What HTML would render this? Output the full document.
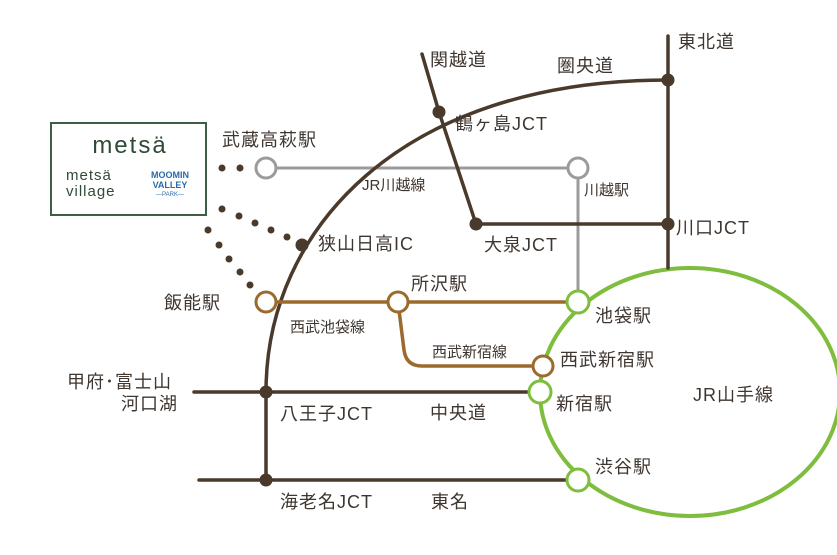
<!DOCTYPE html>
<html><head><meta charset="utf-8"><style>
body{margin:0;background:#fff;width:837px;height:550px;overflow:hidden}
svg text{font-family:"Liberation Sans","Noto Sans CJK JP",sans-serif;fill:#3f3630}
</style></head><body>
<svg width="837" height="550" viewBox="0 0 837 550">
<g fill="none" stroke-linecap="round">
<ellipse cx="690" cy="392" rx="150" ry="124" stroke="#7fbd3e" stroke-width="4"/>
<path d="M266 168 H578 V302" stroke="#9b9b9b" stroke-width="3"/>
<g stroke="#4a3a2b" stroke-width="3.5">
<path d="M266 480 V392 C266 230 400 80 668 80"/>
<path d="M668 36 V268"/>
<path d="M422 54 L439 112 L476 224 H668"/>
<path d="M194 392 H540"/>
<path d="M199 480 H578"/>
</g>
<g stroke="#9b6a2c" stroke-width="3.5">
<path d="M266 302 H578"/>
<path d="M398 302 L404 350 Q406 366 422 366 H543"/>
</g>
</g>
<g fill="#4a3a2b">
<circle cx="222" cy="168" r="3.5"/><circle cx="240" cy="168" r="3.5"/>
<circle cx="222" cy="209" r="3.5"/><circle cx="239" cy="216" r="3.5"/><circle cx="255" cy="223" r="3.5"/><circle cx="271" cy="230" r="3.5"/><circle cx="287" cy="237" r="3.5"/>
<circle cx="208" cy="230" r="3.5"/><circle cx="219" cy="245" r="3.5"/><circle cx="229" cy="259" r="3.5"/><circle cx="240" cy="272" r="3.5"/><circle cx="250" cy="285" r="3.5"/>
<circle cx="302" cy="245" r="6.5"/><circle cx="439" cy="112" r="6.5"/><circle cx="668" cy="80" r="6.5"/>
<circle cx="476" cy="224" r="6.5"/><circle cx="668" cy="224" r="6.5"/>
<circle cx="266" cy="392" r="6.5"/><circle cx="266" cy="480" r="6.5"/>
</g>
<g fill="#fff" stroke-width="3">
<circle cx="266" cy="168" r="10" stroke="#9b9b9b"/>
<circle cx="578" cy="168" r="10" stroke="#9b9b9b"/>
<circle cx="266" cy="302" r="10" stroke="#9b6a2c"/>
<circle cx="398" cy="302" r="10" stroke="#9b6a2c"/>
<circle cx="543" cy="366" r="10" stroke="#9b6a2c"/>
<circle cx="578" cy="302" r="11" stroke="#7fbd3e"/>
<circle cx="540" cy="392" r="11" stroke="#7fbd3e"/>
<circle cx="578" cy="480" r="11" stroke="#7fbd3e"/>
</g>
<rect x="51" y="123" width="155" height="92" fill="#fff" stroke="#3e5e44" stroke-width="2"/>
<text x="130" y="153" font-size="24" text-anchor="middle" style="fill:#2f4a36;letter-spacing:2px">metsä</text>
<text x="66" y="180" font-size="15" style="fill:#2f4a36;letter-spacing:1px">metsä</text>
<text x="66" y="196" font-size="15" style="fill:#2f4a36;letter-spacing:1px">village</text>
<text x="170" y="178" font-size="9" font-weight="bold" text-anchor="middle" style="fill:#2a6aaa">MOOMIN</text>
<text x="170" y="188" font-size="9" font-weight="bold" text-anchor="middle" style="fill:#2a6aaa">VALLEY</text>
<text x="170" y="196" font-size="6" text-anchor="middle" style="fill:#2a6aaa">—PARK—</text>
<g font-size="18" style="letter-spacing:1px">
<text x="430" y="66">関越道</text>
<text x="557" y="72">圏央道</text>
<text x="678" y="48">東北道</text>
<text x="455" y="130">鶴ヶ島JCT</text>
<text x="222" y="146">武蔵高萩駅</text>
<text x="676" y="234">川口JCT</text>
<text x="318" y="250">狭山日高IC</text>
<text x="484" y="251">大泉JCT</text>
<text x="164" y="309">飯能駅</text>
<text x="411" y="290">所沢駅</text>
<text x="595" y="322">池袋駅</text>
<text x="560" y="366">西武新宿駅</text>
<text x="556" y="410">新宿駅</text>
<text x="693" y="401">JR山手線</text>
<text x="595" y="473">渋谷駅</text>
<text x="67" y="388">甲府･富士山</text>
<text x="121" y="410">河口湖</text>
<text x="280" y="420">八王子JCT</text>
<text x="430" y="419">中央道</text>
<text x="280" y="508">海老名JCT</text>
<text x="431" y="508">東名</text>
</g>
<g font-size="15">
<text x="362" y="190">JR川越線</text>
<text x="584" y="195">川越駅</text>
<text x="290" y="332">西武池袋線</text>
<text x="432" y="357">西武新宿線</text>
</g>
</svg>
</body></html>
